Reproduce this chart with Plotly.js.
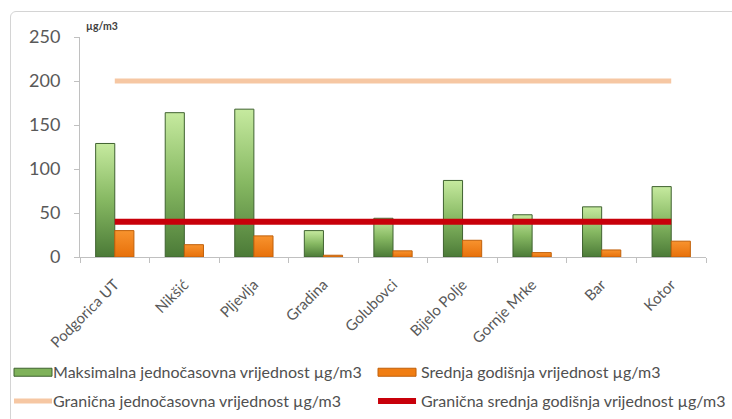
<!DOCTYPE html>
<html>
<head>
<meta charset="utf-8">
<script src="https://cdn.plot.ly/plotly-3.0.1.min.js"></script>
<style>
  html, body { margin: 0; padding: 0; width: 732px; height: 419px; overflow: hidden; background: #fff; }
  #chart { position: absolute; left: 0; top: 0; width: 732px; height: 419px; }
  #frame { position: absolute; left: 10px; top: 11px; width: 760px; height: 440px;
           border: 1px solid #d4d4d4; border-radius: 6px; pointer-events: none; }
</style>
</head>
<body>
<div id="chart"></div>
<div id="frame"></div>
<script>
// Measuring stations
const stations = ["Podgorica UT", "Nikšić", "Pljevlja", "Gradina", "Golubovci",
                  "Bijelo Polje", "Gornje Mrke", "Bar", "Kotor"];
// Maximum one-hour value, µg/m3
const maxHourly = [129, 164, 168, 30, 44, 87, 48, 57, 80];
// Annual mean value, µg/m3
const annualMean = [30, 14, 24, 2, 7, 19, 5, 8, 18];
// Limit values, µg/m3
const limitHourly = [200, 200, 200, 200, 200, 200, 200, 200, 200];
const limitAnnual = [40, 40, 40, 40, 40, 40, 40, 40, 40];
const yTicks = [0, 50, 100, 150, 200, 250];

const FONT = "Lato, 'Open Sans', sans-serif";

// two legend columns: left (hourly), right (annual)
const traces = [
  {
    type: "bar", x: stations, y: maxHourly,
    name: "Maksimalna jednočasovna vrijednost µg/m3",
    legend: "legend", legendgroup: "a",
    marker: { color: "#7fb25a", line: { color: "#3f6230", width: 1 } },
    hoverinfo: "x+y"
  },
  {
    type: "bar", x: stations, y: annualMean,
    name: "Srednja godišnja vrijednost µg/m3",
    legend: "legend2", legendgroup: "b",
    marker: { color: "#f07d12", line: { color: "#c0600a", width: 1 } },
    hoverinfo: "x+y"
  },
  {
    type: "scatter", mode: "lines", x: stations, y: limitHourly,
    name: "Granična jednočasovna vrijednost µg/m3",
    legend: "legend", legendgroup: "c",
    line: { color: "#f6c7a3", width: 5 },
    hoverinfo: "x+y"
  },
  {
    type: "scatter", mode: "lines", x: stations, y: limitAnnual,
    name: "Granična srednja godišnja vrijednost µg/m3",
    legend: "legend2", legendgroup: "d",
    line: { color: "#c8000a", width: 6 },
    hoverinfo: "x+y"
  }
];

const legendBase = {
  orientation: "v",
  y: -0.447, yanchor: "top",
  xanchor: "left",
  itemwidth: 38,
  tracegroupgap: 5,
  bgcolor: "rgba(0,0,0,0)",
  font: { family: FONT, size: 16, color: "#505050" },
  traceorder: "grouped"
};

const layout = {
  width: 732, height: 419,
  margin: { l: 80, r: 26, t: 37, b: 162, autoexpand: false },
  paper_bgcolor: "rgba(0,0,0,0)",
  plot_bgcolor: "#ffffff",
  font: { family: FONT, color: "#595959" },
  barmode: "group",
  bargap: 0.45,
  bargroupgap: 0,
  showlegend: true,
  legend: Object.assign({}, legendBase, { x: -0.1134 }),
  legend2: Object.assign({}, legendBase, { x: 0.4681 }),
  xaxis: {
    type: "category",
    showline: true, linecolor: "#c0c0c0", linewidth: 1,
    ticks: "outside", tickson: "boundaries", ticklen: 5, tickcolor: "#c0c0c0",
    tickangle: -45, ticklabelstandoff: 12,
    tickfont: { family: FONT, size: 15, color: "#595959" },
    showgrid: false, zeroline: false, fixedrange: true
  },
  yaxis: {
    range: [0, 250],
    tickvals: yTicks,
    showline: true, linecolor: "#c0c0c0", linewidth: 1,
    ticks: "outside", ticklen: 5, tickcolor: "#c0c0c0", ticklabelstandoff: 10,
    tickfont: { family: FONT, size: 18, color: "#595959" },
    showgrid: false, zeroline: false, fixedrange: true
  },
  annotations: [{
    text: "<b>µg/m3</b>", xref: "paper", yref: "paper",
    x: 0.006, y: 1.05, xanchor: "left", yanchor: "middle",
    showarrow: false, font: { family: FONT, size: 10.5, color: "#404040" }
  }]
};

function decorate(gd) {
  // vertical shading on the bars: light top, dark base
  const ns = "http://www.w3.org/2000/svg";
  const defs = gd.querySelector("svg.main-svg defs");
  function addGrad(id, stops) {
    if (document.getElementById(id)) return;
    const g = document.createElementNS(ns, "linearGradient");
    g.setAttribute("id", id);
    g.setAttribute("x1", "0"); g.setAttribute("y1", "0");
    g.setAttribute("x2", "0"); g.setAttribute("y2", "1");
    stops.forEach(function (s) {
      const st = document.createElementNS(ns, "stop");
      st.setAttribute("offset", s[0]);
      st.setAttribute("stop-color", s[1]);
      g.appendChild(st);
    });
    defs.appendChild(g);
  }
  addGrad("gradGreen", [["0", "#c6ea9f"], ["0.5", "#86b862"], ["1", "#4b7a37"]]);
  addGrad("gradOrange", [["0", "#f8932e"], ["1", "#e7700a"]]);
  const barTraces = gd.querySelectorAll(".barlayer .trace.bars");
  if (barTraces[0]) barTraces[0].querySelectorAll("path").forEach(function (p) { p.style.fill = "url(#gradGreen)"; });
  if (barTraces[1]) barTraces[1].querySelectorAll("path").forEach(function (p) { p.style.fill = "url(#gradOrange)"; });

  // legend entries: 38px swatch at x=5..43, label starting at x=44
  gd.querySelectorAll("g.legend .traces, g.legend2 .traces").forEach(function (item) {
    const label = item.querySelector("text.legendtext");
    if (label) {
      label.removeAttribute("transform");
      label.setAttribute("x", "44");
      label.querySelectorAll("tspan.line").forEach(function (ts) { ts.setAttribute("x", "44"); });
    }
    item.querySelectorAll(".legendpoints, .legendlines, .legendfill").forEach(function (g) {
      g.removeAttribute("transform");
    });
    item.querySelectorAll(".legendpoints path").forEach(function (p) {
      p.removeAttribute("transform");
      p.setAttribute("d", "M5,-4h38v8h-38Z");
    });
    item.querySelectorAll(".legendlines path").forEach(function (p) {
      p.setAttribute("d", "M5,0h38");
    });
  });
}

Plotly.newPlot("chart", traces, layout, { displayModeBar: false, staticPlot: true }).then(function (gd) {
  decorate(gd);
  setTimeout(function () { decorate(gd); }, 50);
});
</script>
</body>
</html>
